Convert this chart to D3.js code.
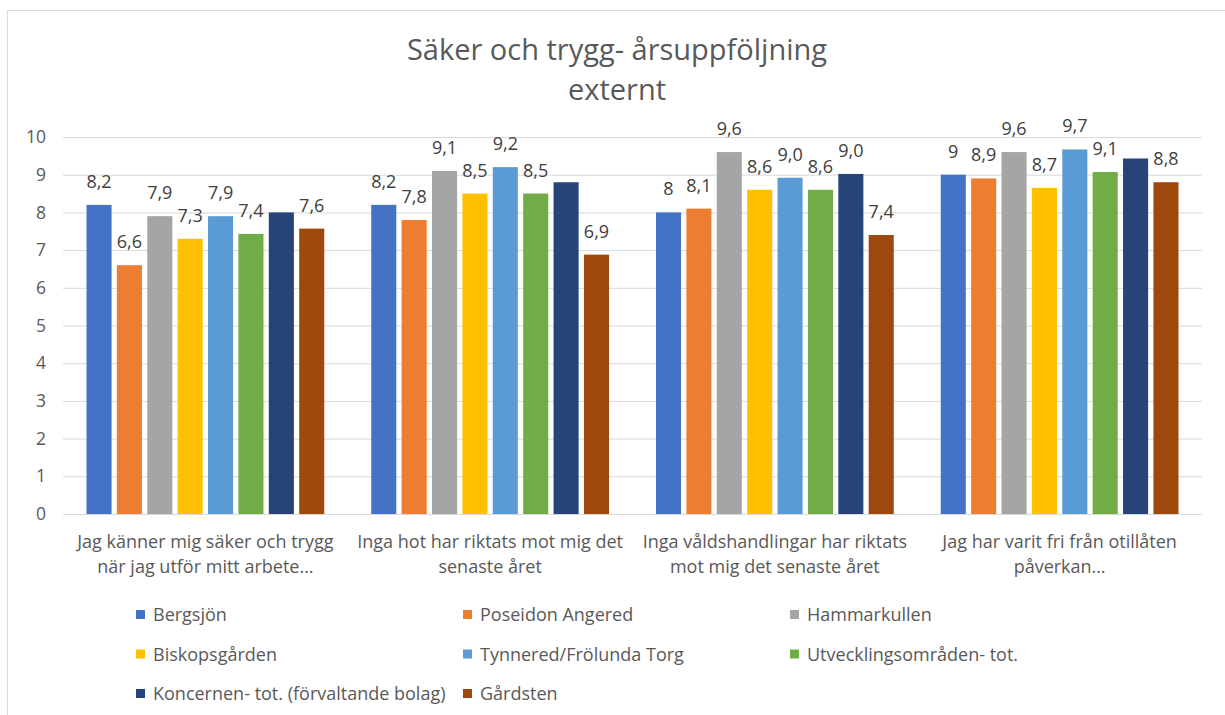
<!DOCTYPE html>
<html>
<head>
<meta charset="utf-8">
<script src="https://cdn.jsdelivr.net/npm/d3@7"></script>
<style>
  body { margin: 0; background: #fff; }
  text { font-family: "Open Sans", sans-serif; }
</style>
</head>
<body>
<div id="chart-container"></div>
<script>
// chart values
const categories = [
  ["Jag känner mig säker och trygg", "när jag utför mitt arbete…"],
  ["Inga hot har riktats mot mig det", "senaste året"],
  ["Inga våldshandlingar har riktats", "mot mig det senaste året"],
  ["Jag har varit fri från otillåten", "påverkan…"],
];
const seriesNames = [
  "Bergsjön",
  "Poseidon Angered",
  "Hammarkullen",
  "Biskopsgården",
  "Tynnered/Frölunda Torg",
  "Utvecklingsområden- tot.",
  "Koncernen- tot. (förvaltande bolag)",
  "Gårdsten",
];
const colors = ["#4472C4", "#ED7D31", "#A5A5A5", "#FFC000", "#5B9BD5", "#70AD47", "#264478", "#9E480E"];

const bergsjon = [8.2, 8.2, 8.0, 9.0];
const poseidon = [6.6, 7.8, 8.1, 8.9];
const hammarkullen = [7.9, 9.1, 9.6, 9.6];
const biskopsgarden = [7.3, 8.5, 8.6, 8.65];
const tynnered = [7.9, 9.2, 8.92, 9.67];
const utveckling = [7.43, 8.5, 8.6, 9.07];
const koncernen = [8.0, 8.8, 9.02, 9.43];
const gardsten = [7.57, 6.88, 7.4, 8.8];

const bergsjonLabels = ["8,2", "8,2", "8", "9"];
const poseidonLabels = ["6,6", "7,8", "8,1", "8,9"];
const hammarkullenLabels = ["7,9", "9,1", "9,6", "9,6"];
const biskopsgardenLabels = ["7,3", "8,5", "8,6", "8,7"];
const tynneredLabels = ["7,9", "9,2", "9,0", "9,7"];
const utvecklingLabels = ["7,4", "8,5", "8,6", "9,1"];
const koncernenLabels = [null, null, "9,0", null];
const gardstenLabels = ["7,6", "6,9", "7,4", "8,8"];

const yTicks = [0, 1, 2, 3, 4, 5, 6, 7, 8, 9, 10];

const values = [bergsjon, poseidon, hammarkullen, biskopsgarden, tynnered, utveckling, koncernen, gardsten];
const labels = [bergsjonLabels, poseidonLabels, hammarkullenLabels, biskopsgardenLabels,
  tynneredLabels, utvecklingLabels, koncernenLabels, gardstenLabels];

const width = 1225;
const height = 715;
const margin = { top: 137, right: 23, bottom: 201, left: 63 };
const graphWidth = width - margin.left - margin.right;
const graphHeight = height - margin.top - margin.bottom;

const svg = d3
  .select("#chart-container")
  .append("svg")
  .attr("width", width)
  .attr("height", height);

// chart area border
svg
  .append("rect")
  .attr("x", 7.5)
  .attr("y", 10.5)
  .attr("width", width + 10)
  .attr("height", height + 10)
  .attr("fill", "none")
  .attr("stroke", "#d9d9d9");

svg
  .append("text")
  .attr("x", 617)
  .attr("y", 60)
  .attr("text-anchor", "middle")
  .style("font-size", "29px")
  .attr("fill", "#595959")
  .text("Säker och trygg- årsuppföljning");

svg
  .append("text")
  .attr("x", 617)
  .attr("y", 100)
  .attr("text-anchor", "middle")
  .style("font-size", "29px")
  .attr("fill", "#595959")
  .text("externt");

const graph = svg
  .append("g")
  .attr("transform", `translate(${margin.left}, ${margin.top})`);

const y = d3.scaleLinear().domain([0, 10]).range([graphHeight, 0]);

const x0 = d3
  .scaleBand()
  .domain(d3.range(categories.length))
  .range([0, graphWidth])
  .paddingInner(0.165)
  .paddingOuter(0.0825);

const x1 = d3
  .scaleBand()
  .domain(d3.range(seriesNames.length))
  .range([0, x0.bandwidth()])
  .paddingInner(0.175);

const yAxis = d3
  .axisLeft(y)
  .tickValues(yTicks)
  .tickSize(-graphWidth)
  .tickPadding(17)
  .tickFormat((d) => d);

const gYAxis = graph.append("g").call(yAxis);
gYAxis.select(".domain").remove();
gYAxis.selectAll("line").attr("stroke", "#d9d9d9");
gYAxis
  .selectAll("text")
  .attr("fill", "#595959")
  .style("font-size", "17.5px");

const groups = graph
  .selectAll(".group")
  .data(categories)
  .enter()
  .append("g")
  .attr("transform", (d, i) => `translate(${x0(i)}, 0)`);

const cells = groups
  .selectAll(".cell")
  .data((d, i) => values.map((s, j) => ({ s: j, v: s[i], label: labels[j][i] })))
  .enter()
  .append("g");

cells
  .append("rect")
  .attr("x", (d) => x1(d.s))
  .attr("y", (d) => y(d.v))
  .attr("width", x1.bandwidth())
  .attr("height", (d) => graphHeight - y(d.v))
  .attr("fill", (d) => colors[d.s]);

cells
  .filter((d) => d.label !== null)
  .append("text")
  .attr("x", (d) => x1(d.s) + x1.bandwidth() / 2)
  .attr("y", (d) => y(d.v) - 17)
  .attr("text-anchor", "middle")
  .attr("fill", "#404040")
  .style("font-size", "18px")
  .text((d) => d.label);

// category labels
groups
  .append("text")
  .attr("text-anchor", "middle")
  .attr("fill", "#595959")
  .style("font-size", "18px")
  .selectAll("tspan")
  .data((d) => d)
  .enter()
  .append("tspan")
  .attr("x", x0.bandwidth() / 2)
  .attr("y", (d, i) => graphHeight + 34 + i * 25)
  .text((d) => d);

// legend
const legend = svg
  .selectAll(".legend")
  .data(seriesNames)
  .enter()
  .append("g")
  .attr("transform", (d, i) => `translate(${136 + (i % 3) * 327}, ${621 + Math.floor(i / 3) * 39.5})`);

legend
  .append("rect")
  .attr("x", 0)
  .attr("y", -11)
  .attr("width", 9)
  .attr("height", 9)
  .attr("fill", (d, i) => colors[i]);

legend
  .append("text")
  .attr("x", 17)
  .attr("y", 0)
  .attr("fill", "#595959")
  .style("font-size", "18px")
  .text((d) => d);
</script>
</body>
</html>
